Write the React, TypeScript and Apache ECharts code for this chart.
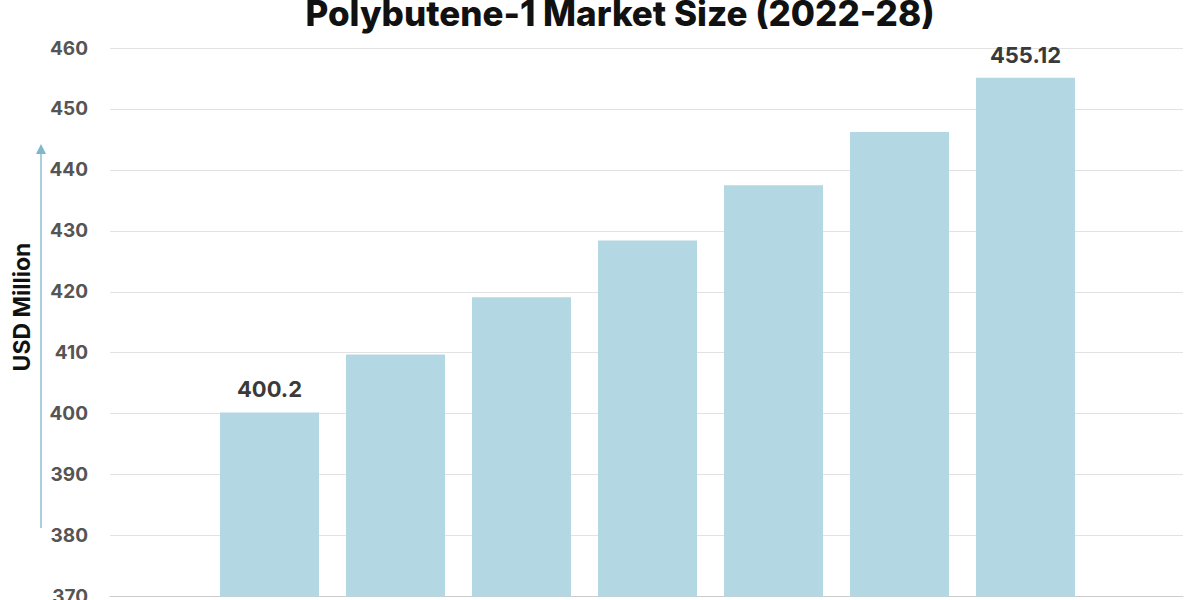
import React, { useEffect, useRef } from "react";
import * as echarts from "echarts";

const years = [2022, 2023, 2024, 2025, 2026, 2027, 2028];
const values = [400.2, 409.7, 419.1, 428.4, 437.5, 446.2, 455.12];
const labeledYears = [2022, 2028];

export default function App() {
  const ref = useRef<HTMLDivElement>(null);
  useEffect(() => {
    const chart = echarts.init(ref.current!, null, { renderer: "svg" });
    const font = "Inter, 'Open Sans', sans-serif";
    chart.setOption({
      animation: false,
      backgroundColor: "#ffffff",
      title: {
        text: "Polybutene-1 Market Size (2022-28)",
        left: 615,
        textAlign: "center",
        top: -10,
        textStyle: { fontFamily: font, fontSize: 35, fontWeight: 800, color: "#111111" },
      },
      grid: { left: 110, right: 17, top: 48, bottom: 4 },
      xAxis: {
        type: "value",
        min: 2020.734,
        max: 2029.25,
        axisLabel: { show: false },
        axisTick: { show: false },
        splitLine: { show: false },
        axisLine: { show: true, onZero: false, lineStyle: { color: "#cccccc", width: 1 } },
      },
      yAxis: {
        type: "value",
        min: 370,
        max: 460,
        interval: 10,
        axisLine: { show: false },
        axisTick: { show: false },
        axisLabel: {
          fontFamily: font,
          fontSize: 19,
          fontWeight: 700,
          color: "#555555",
          margin: 22,
        },
        splitLine: { lineStyle: { color: "#e2e2e2", width: 1 } },
      },
      graphic: [
        {
          type: "text",
          x: 22,
          y: 307,
          rotation: Math.PI / 2,
          style: {
            text: "USD Million",
            fontFamily: font,
            fontSize: 23,
            fontWeight: 700,
            fill: "#111111",
            align: "center",
            verticalAlign: "middle",
          },
        },
        {
          type: "line",
          shape: { x1: 41, y1: 152, x2: 41, y2: 528 },
          style: { stroke: "#8cc0d2", lineWidth: 1.5 },
        },
        {
          type: "polygon",
          shape: { points: [[41, 144], [36, 154], [46, 154]] },
          style: { fill: "#7fb8cc" },
        },
      ],
      series: [
        {
          type: "bar",
          barWidth: 99,
          itemStyle: { color: "#b4d7e4" },
          data: years.map((y, i) => ({
            value: [y, values[i]],
            label: {
              show: labeledYears.includes(y),
              position: "top",
              distance: 12,
              formatter: String(values[i]),
              fontFamily: font,
              fontSize: 22,
              fontWeight: 700,
              color: "#3a3a3a",
            },
          })),
        },
      ],
    });
    return () => chart.dispose();
  }, []);
  return <div ref={ref} style={{ width: 1200, height: 606, position: "absolute", left: 0, top: 0 }} />;
}
